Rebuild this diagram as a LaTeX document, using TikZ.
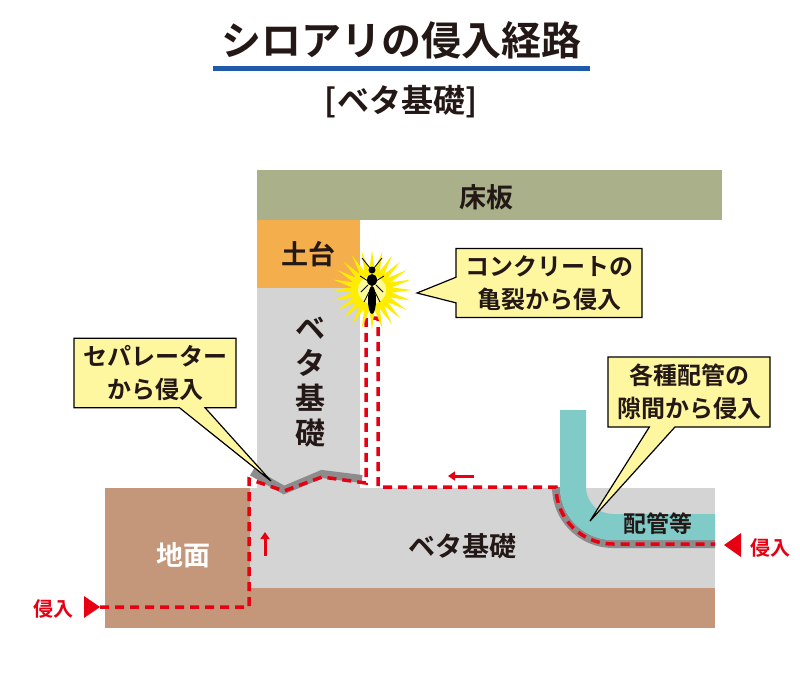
\documentclass[tikz,border=0pt]{standalone}
\usepackage{fontspec}
\setmainfont{Noto Sans CJK JP}[BoldFont={* Bold}]
\usetikzlibrary{shapes.callouts,arrows.meta}
\definecolor{floorc}{HTML}{A9B08A}
\definecolor{sillc}{HTML}{F5AE4C}
\definecolor{concc}{HTML}{D4D4D4}
\definecolor{soilc}{HTML}{C4967A}
\definecolor{pipec}{HTML}{80CBC8}
\definecolor{gapc}{HTML}{8C8C8C}
\definecolor{routec}{HTML}{E60012}
\definecolor{notec}{HTML}{FFF6A0}
\definecolor{titlec}{HTML}{1F5BA8}
\definecolor{inkc}{HTML}{231815}
\tikzset{
  lbl/.style={font=\bfseries\fontsize{27}{30}\selectfont, text=inkc},
  callbox/.style={rectangle callout, draw=black, line width=1.2pt, fill=notec,
    align=center, inner xsep=9pt, inner ysep=7pt, callout pointer width=0.9cm,
    font=\bfseries\fontsize{24}{33}\selectfont, text=inkc},
  route/.style={routec, line width=3.5pt, dash pattern=on 9pt off 6pt},
  crackband/.style={gapc, line width=8pt, line join=miter}
}
\begin{document}
\begin{tikzpicture}[x=1pt, y=-1pt]
    \useasboundingbox (0,0) rectangle (800,675);
    % Title
    \node[font=\bfseries\fontsize{40}{46}\selectfont, text=inkc] (title) at (401,40) {シロアリの侵入経路};
    \fill[titlec] (213,66) rectangle (590,71);
    \node[font=\bfseries\fontsize{32}{36}\selectfont, text=inkc] (sub) at (401,102) {[ベタ基礎]};

    % Floor, sill, wall
    \fill[floorc] (257,170) rectangle (722,220);
    \node[lbl] (floor) at (486,197) {床板};
    \fill[sillc] (257,220) rectangle (360,288);
    \node[lbl] (sill) at (308,254) {土台};
    \fill[concc] (257,288) rectangle (360,490);
    \node[lbl, align=center, font=\bfseries\fontsize{30}{35}\selectfont] (wall) at (310,382) {ベ\\タ\\基\\礎};

    % Ground and slab
    \fill[soilc] (105,488) rectangle (715,628);
    \fill[concc] (250,488) rectangle (715,588);
    \node[lbl, text=white] (soil) at (183,555) {地面};
    \node[lbl] (slab) at (462,546) {ベタ基礎};

    % Pipe
    \draw[crackband] (556,487) arc (180:90:57) -- (715,544);
    \draw[pipec, line width=26pt] (573,410) -- (573,487) arc (180:90:40) -- (715,527);
    \node[lbl, font=\bfseries\fontsize{23}{26}\selectfont] (pipe) at (658,524) {配管等};

    % Crack at separator
    \draw[crackband] (252,472) -- (284,490) -- (322,474) -- (362,479);

    % Route
    \draw[route] (100,607) -- (249,607) -- (249,479) -- (284,491) -- (322,477) -- (366,483)
      -- (366,318) -- (378,318) -- (378,487) -- (556,487) arc (180:90:57) -- (715,544);
    \draw[routec, line width=3pt, -{Triangle[length=7pt,width=9pt]}] (474,476) -- (448,476);
    \draw[routec, line width=3pt, -{Triangle[length=7pt,width=9pt]}] (265,556) -- (265,532);

    % Entry marks
    \fill[routec] (84,596) -- (84,618) -- (100,607) -- cycle;
    \node[text=routec, font=\bfseries\fontsize{20}{22}\selectfont] (inL) at (53,609) {侵入};
    \fill[routec] (741,533) -- (741,557) -- (724,545) -- cycle;
    \node[text=routec, font=\bfseries\fontsize{20}{22}\selectfont] (inR) at (770,548) {侵入};

    % Termite burst
    \fill[yellow!95!orange] (412,290) \foreach \i in {1,...,47} {
      -- ([shift={(372,290)}]\i*7.5:{ifthenelse(mod(\i,2)==0,40,20)})} -- cycle;
    \fill[yellow!40!white] (372,290) circle (14);
    \fill[black] (372,300) ellipse (4 and 14);
    \fill[black] (372,280) ellipse (5 and 6);
    \fill[black] (372,270) circle (3.5);
    \draw[black, line width=0.8pt] (370,268) -- (362,258) (374,268) -- (382,258)
      (368,281) -- (360,276) (376,281) -- (384,276)
      (368,285) -- (361,292) (376,285) -- (383,292)
      (369,292) -- (364,302) (375,292) -- (380,302);

    % Callouts
    \node[callbox, callout absolute pointer={(417,293)}] (crack) at (549,283) {コンクリートの\\亀裂から侵入};
    \node[callbox, callout absolute pointer={(271,481)}] (sep) at (155,373) {セパレーター\\から侵入};
    \node[callbox, callout absolute pointer={(590,521)}] (gap) at (689,392) {各種配管の\\隙間から侵入};
\end{tikzpicture}
\end{document}
